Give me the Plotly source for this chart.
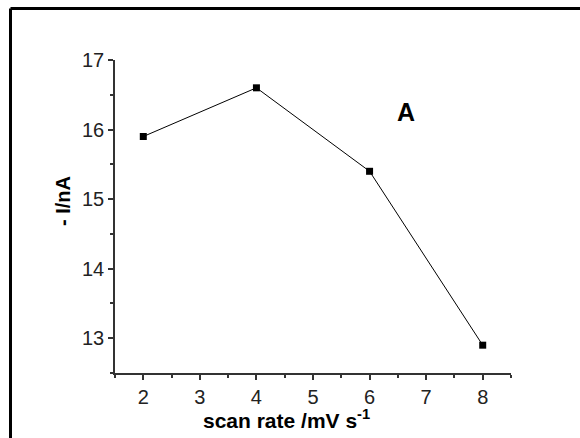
import plotly.graph_objects as go

scan_rate = [2, 4, 6, 8]
current = [15.9, 16.6, 15.4, 12.9]
x_ticks = [2, 3, 4, 5, 6, 7, 8]
y_ticks = [13, 14, 15, 16, 17]

W, H = 580, 438
L, R, T, B = 115, 69, 60, 65
pw, ph = W - L - R, H - T - B

def px(x):
    return (x - L) / pw

def py(y):
    return (H - B - y) / ph

fig = go.Figure()
fig.add_trace(go.Scatter(
    x=scan_rate, y=current, mode="lines+markers",
    line=dict(color="black", width=1),
    marker=dict(symbol="square", size=7, color="black"),
    showlegend=False,
))

axis_common = dict(
    showline=True, linecolor="#333", linewidth=1.5,
    ticks="outside", ticklen=5, tickwidth=1.5, tickcolor="#333",
    showgrid=False, zeroline=False, mirror=False,
    tickfont=dict(family="Liberation Sans, Arial", size=20, color="#222"),
)

fig.update_layout(
    width=W, height=H,
    margin=dict(l=L, r=R, t=T, b=B),
    paper_bgcolor="white", plot_bgcolor="white",
    xaxis=dict(range=[1.5, 8.5], tickvals=x_ticks,
               minor=dict(ticks="outside", ticklen=3, tickwidth=1.5, tickcolor="#333", dtick=0.5),
               **axis_common),
    yaxis=dict(range=[12.5, 17], tickvals=y_ticks,
               minor=dict(ticks="outside", ticklen=3, tickwidth=1.5, tickcolor="#333", dtick=0.5),
               **axis_common),
    annotations=[
        dict(text="<b>scan rate /mV s<sup>-1</sup></b>", xref="paper", yref="paper",
             x=px(286), y=py(419), xanchor="center", yanchor="middle", showarrow=False,
             font=dict(family="Liberation Sans, Arial", size=21, color="black")),
        dict(text="<b>- I/nA</b>", xref="paper", yref="paper", textangle=-90,
             x=px(63), y=py(201), xanchor="center", yanchor="middle", showarrow=False,
             font=dict(family="Liberation Sans, Arial", size=20, color="black")),
        dict(text="<b>A</b>", xref="paper", yref="paper",
             x=px(406), y=py(112), xanchor="center", yanchor="middle", showarrow=False,
             font=dict(family="Liberation Sans, Arial", size=25, color="black")),
    ],
    shapes=[
        dict(type="line", xref="paper", yref="paper", x0=px(10.5), x1=px(582),
             y0=py(8.5), y1=py(8.5), line=dict(color="black", width=3)),
        dict(type="line", xref="paper", yref="paper", x0=px(10.5), x1=px(10.5),
             y0=py(8.5), y1=py(440), line=dict(color="black", width=3)),
    ],
)

fig.write_html("out.html")
